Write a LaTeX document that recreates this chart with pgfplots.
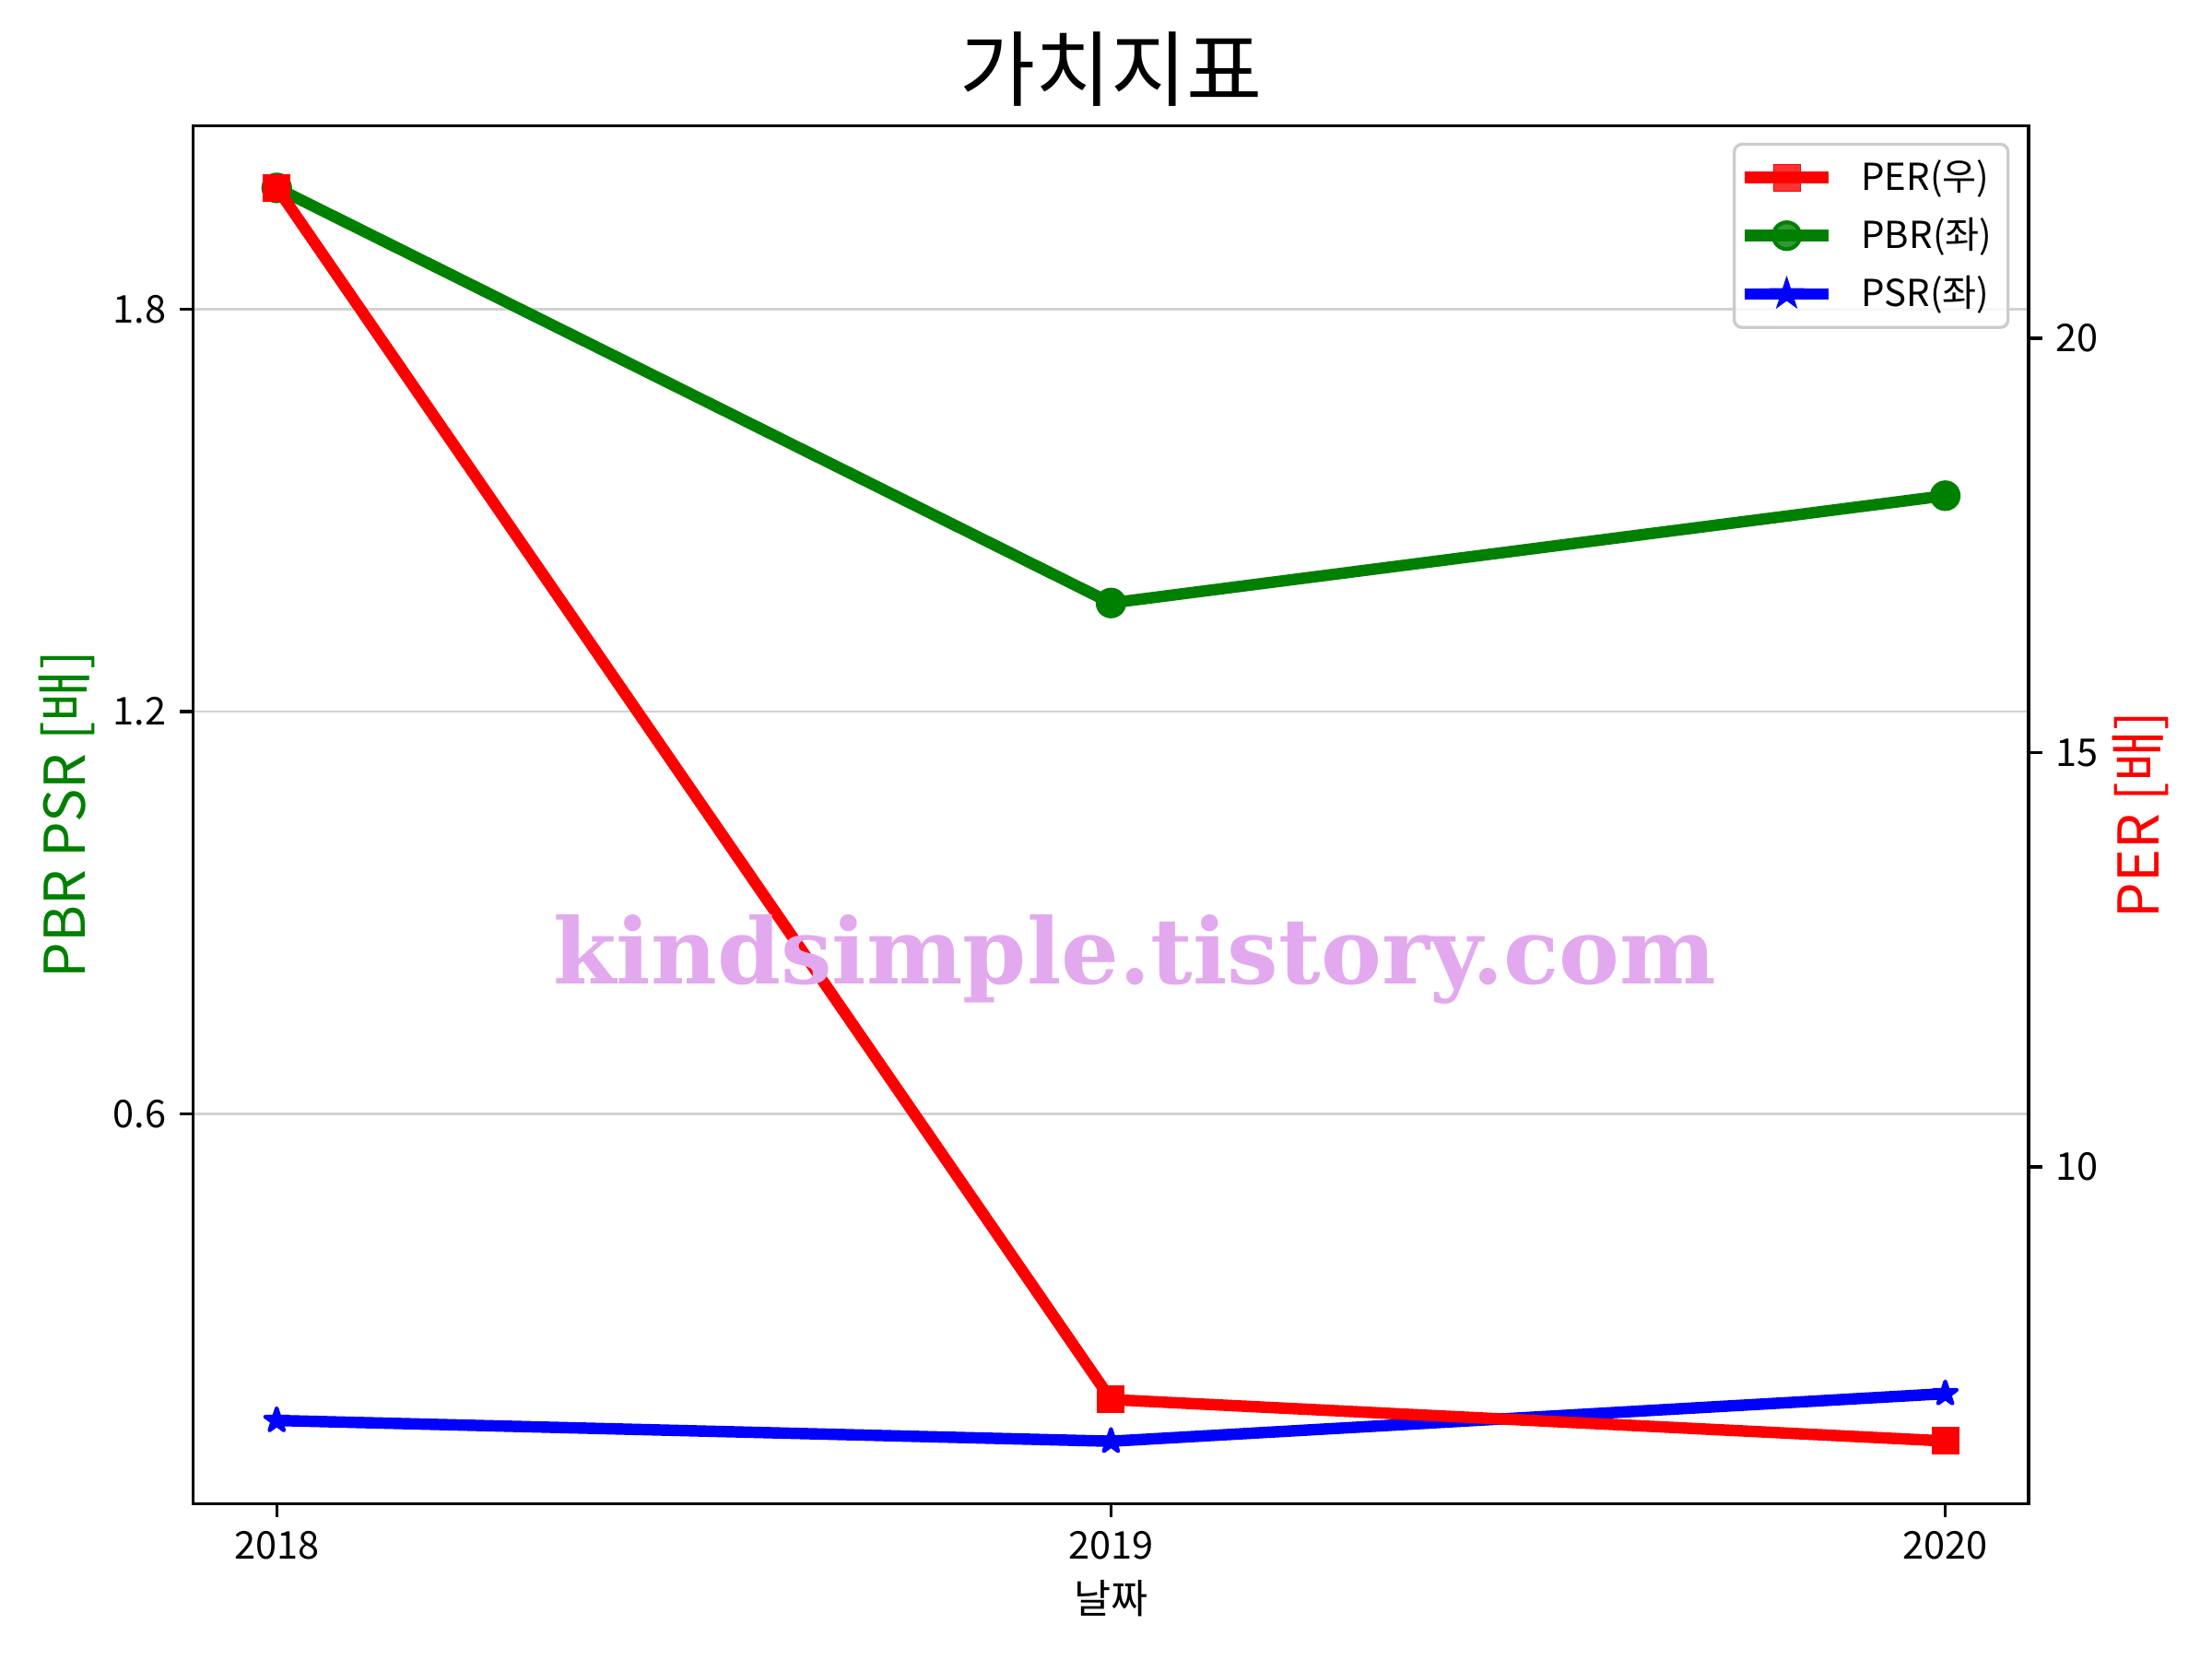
\documentclass[border=0pt]{standalone}
\usepackage{fontspec}
\setmainfont{Noto Sans CJK KR}
\newfontfamily\wmfont{DejaVu Serif Bold}
\usepackage{pgfplots}
\pgfplotsset{compat=1.18}
\definecolor{mplgreen}{RGB}{0,128,0}
\definecolor{wm}{RGB}{227,169,238}
\definecolor{legedge}{RGB}{204,204,204}
\definecolor{gridc}{RGB}{210,210,210}
\pgfdeclareplotmark{fstar}{%
  \pgfpathmoveto{\pgfpointpolar{90}{\pgfplotmarksize}}%
  \pgfpathlineto{\pgfpointpolar{126}{0.382\pgfplotmarksize}}%
  \pgfpathlineto{\pgfpointpolar{162}{\pgfplotmarksize}}%
  \pgfpathlineto{\pgfpointpolar{198}{0.382\pgfplotmarksize}}%
  \pgfpathlineto{\pgfpointpolar{234}{\pgfplotmarksize}}%
  \pgfpathlineto{\pgfpointpolar{270}{0.382\pgfplotmarksize}}%
  \pgfpathlineto{\pgfpointpolar{306}{\pgfplotmarksize}}%
  \pgfpathlineto{\pgfpointpolar{342}{0.382\pgfplotmarksize}}%
  \pgfpathlineto{\pgfpointpolar{18}{\pgfplotmarksize}}%
  \pgfpathlineto{\pgfpointpolar{54}{0.382\pgfplotmarksize}}%
  \pgfpathclose
  \pgfusepathqfillstroke
}
\pgfplotsset{
  common/.style={
    at={(0.699in,0.561in)}, anchor=south west,
    scale only axis, width=6.638in, height=4.985in,
    xmin=2017.9, xmax=2020.1,
    xtick={2018,2019,2020},
    tick align=outside, major tick length=3.5pt,
    every tick/.style={black, line width=0.8pt},
    axis line style={line width=0.8pt},
    tick label style={font=\fontsize{10}{12}\selectfont},
    /pgf/number format/assume math mode=true,
    /pgf/number format/1000 sep={},
    clip=false,
  },
}
\begin{document}
\begin{tikzpicture}
\useasboundingbox (0,0) rectangle (8in,6in);
\begin{axis}[
  common,
  ymin=0.0185, ymax=2.074,
  ytick={0.6,1.2,1.8},
  yticklabel style={/pgf/number format/.cd, fixed, fixed zerofill, precision=1},
  xtick pos=bottom, ytick pos=left,
  ymajorgrids, grid style={gridc, line width=0.6pt},
  xlabel={날짜},
  xlabel style={at={(axis description cs:0.5,-0.0686)}, anchor=center, font=\fontsize{10.5}{12}\selectfont},
  ylabel={PBR PSR [배]},
  ylabel style={at={(axis description cs:-0.069,0.5)}, anchor=center, font=\fontsize{14.7}{16}\selectfont, text=mplgreen},
  title={가치지표},
  title style={at={(axis description cs:0.5,1.024)}, anchor=center, font=\fontsize{21.5}{24}\selectfont},
]
\addplot[mplgreen, line width=3pt, line join=round, mark=*, mark size=3.5pt, mark options={solid, line width=1pt}]
  coordinates {(2018,1.981) (2019,1.362) (2020,1.522)};
\addplot[blue, line width=3pt, line join=round, mark=fstar, mark size=3.2pt, mark options={solid, line width=1pt}]
  coordinates {(2018,0.143) (2019,0.112) (2020,0.183)};
\end{axis}
\begin{axis}[
  common,
  ymin=5.93, ymax=22.57,
  ytick={10,15,20},
  hide x axis,
  axis y line*=right,
  ylabel={PER [배]},
  ylabel style={at={(axis description cs:1.0607,0.5)}, anchor=center, font=\fontsize{14.7}{16}\selectfont, text=red},
  legend style={at={(axis description cs:1,1)}, anchor=north east, xshift=-5pt, yshift=-4.5pt,
    draw=legedge, line width=0.8pt, rounded corners=2pt, fill=white, fill opacity=0.8, text opacity=1,
    font=\fontsize{9.7}{12}\selectfont, row sep=1.7pt, inner xsep=1.2pt, inner ysep=2pt,
    nodes={inner xsep=3pt}},
  legend cell align=left,
  legend image code/.code={\draw[mark repeat=2, mark phase=2] plot coordinates {(0pt,0pt) (11pt,0pt) (22pt,0pt)};},
]
\addplot[red, line width=3pt, line join=round, mark=square*, mark size=3.5pt, mark options={solid, line width=0pt}]
  coordinates {(2018,21.82) (2019,7.19) (2020,6.69)};
\addlegendentry{\hspace{4pt}PER(우)}
\addlegendimage{mplgreen, line width=3pt, mark=*, mark size=3.5pt, mark options={solid, line width=1pt}}
\addlegendentry{\hspace{4pt}PBR(좌)}
\addlegendimage{blue, line width=3pt, mark=fstar, mark size=3.2pt, mark options={solid, line width=1pt}}
\addlegendentry{\hspace{4pt}PSR(좌)}
\node[font=\wmfont\fontsize{23.8}{26}\selectfont, text=wm] at (axis description cs:0.513,0.395) {kindsimple.tistory.com};
\end{axis}
\end{tikzpicture}
\end{document}
